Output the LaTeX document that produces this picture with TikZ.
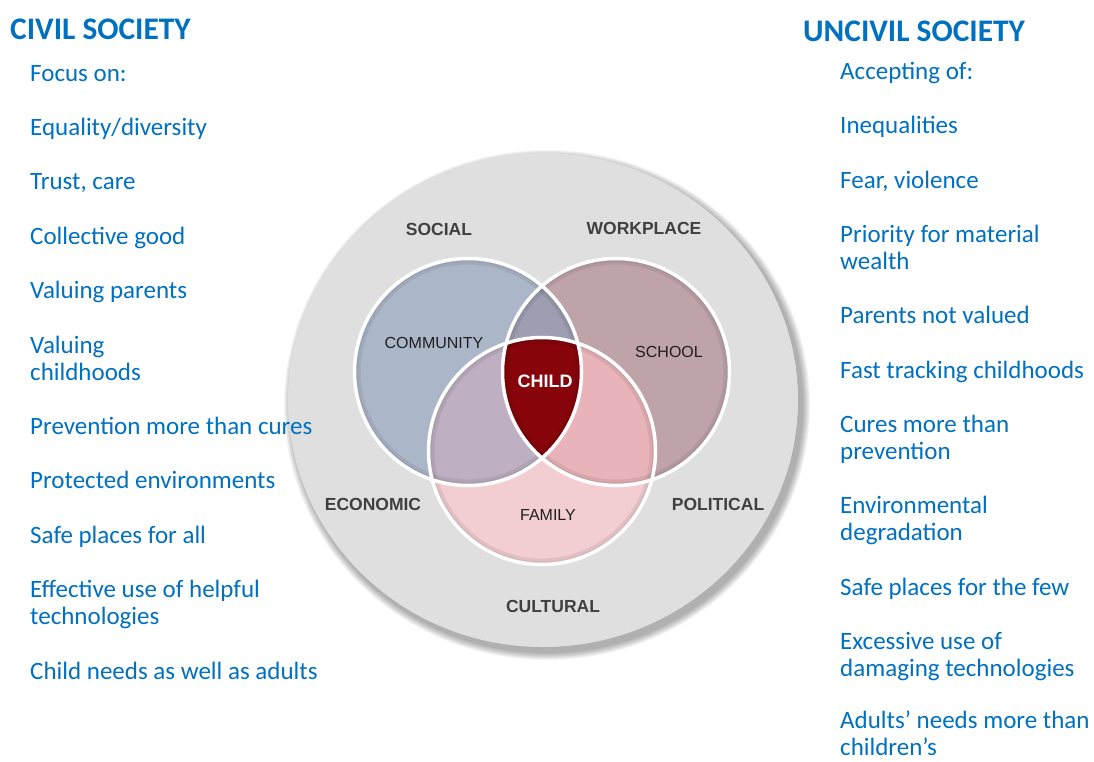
\documentclass[tikz,border=0pt]{standalone}
\usepackage{fontspec}
\setmainfont{Carlito}
\newfontfamily\arialf{Liberation Sans}
\definecolor{txtblue}{RGB}{0,112,192}
\definecolor{bigc}{RGB}{223,223,223}
\definecolor{lblgray}{RGB}{64,64,64}
\definecolor{commc}{RGB}{172,182,201}
\definecolor{schoolc}{RGB}{190,164,168}
\definecolor{famc}{RGB}{242,206,210}
\definecolor{csc}{RGB}{158,158,178}
\definecolor{cfc}{RGB}{190,176,194}
\definecolor{sfc}{RGB}{232,180,186}
\definecolor{childc}{RGB}{135,5,10}
\begin{document}
\begin{tikzpicture}[x=1pt,y=-1pt,
  item/.style={anchor=base west, inner sep=0pt, align=left, text=txtblue, font=\fontsize{25}{27}\selectfont},
  ttl/.style={anchor=base west, inner sep=0pt, text=txtblue, font=\fontsize{31.4}{34}\selectfont\bfseries},
  ringlbl/.style={inner sep=0pt, font=\arialf\bfseries\fontsize{17.5}{19}\selectfont, text=lblgray},
  innerlbl/.style={inner sep=0pt, font=\arialf\fontsize{16}{18}\selectfont, text=black!88},
  childlbl/.style={inner sep=0pt, font=\arialf\bfseries\fontsize{18}{20}\selectfont, text=white},
  outline/.style={draw=white, line width=3.5pt}
]
\useasboundingbox (0,0) rectangle (1094,761);
\fill[white] (0,0) rectangle (1094,761);

% centres
\coordinate (big) at (543,400);
\coordinate (cC) at (468,372);
\coordinate (cS) at (616,372);
\coordinate (cF) at (542,451);
\def\r{113.5pt}

% shadow of the outer disc
\foreach \d in {8,7,...,1}
  \fill[black, opacity=0.045] (547,405) ellipse ({(255+\d)*1pt} and {(247+\d)*1pt});
\fill[bigc] (big) ellipse (255pt and 247pt);

% circle fills
\fill[commc] (cC) circle (\r);
\fill[schoolc] (cS) circle (\r);
\fill[famc] (cF) circle (\r);
\begin{scope}
  \clip (cC) circle (\r);
  \fill[csc] (cS) circle (\r);
  \fill[cfc] (cF) circle (\r);
\end{scope}
\begin{scope}
  \clip (cS) circle (\r);
  \fill[sfc] (cF) circle (\r);
\end{scope}
\begin{scope}
  \clip (cC) circle (\r);
  \clip (cS) circle (\r);
  \fill[childc] (cF) circle (\r);
\end{scope}
% inner soft shading
\foreach \c in {cC,cS,cF}{
  \begin{scope}
    \clip (\c) circle (\r);
    \draw[black, opacity=0.07, line width=12pt] (\c) circle (\r);
    \draw[black, opacity=0.05, line width=6pt] (\c) circle (\r);
  \end{scope}
}
% white outlines
\draw[outline] (cC) circle (\r);
\draw[outline] (cS) circle (\r);
\draw[outline] (cF) circle (\r);

% venn labels
\node[ringlbl] (social) at (439,229) {SOCIAL};
\node[ringlbl] (workplace) at (644,228) {WORKPLACE};
\node[ringlbl] (economic) at (373,504) {ECONOMIC};
\node[ringlbl] (political) at (718,504) {POLITICAL};
\node[ringlbl] (cultural) at (553,606) {CULTURAL};
\node[innerlbl] (community) at (434,343) {COMMUNITY};
\node[innerlbl] (school) at (669,352) {SCHOOL};
\node[innerlbl] (family) at (548,515) {FAMILY};
\node[childlbl] (child) at (545,381) {CHILD};

% left column (base = last line's baseline)
\node[ttl] (civil) at (10,39) {CIVIL SOCIETY};
\node[item] (l1) at (30,81) {Focus on:};
\node[item] (l2) at (30,135.4) {Equality/diversity};
\node[item] (l3) at (30,189.8) {Trust, care};
\node[item] (l4) at (30,244.2) {Collective good};
\node[item] (l5) at (30,298.6) {Valuing parents};
\node[item] (l6) at (30,380) {Valuing\\childhoods};
\node[item] (l7) at (30,434.4) {Prevention more than cures};
\node[item] (l8) at (30,488.8) {Protected environments};
\node[item] (l9) at (30,543.2) {Safe places for all};
\node[item] (l10) at (30,624.6) {Effective use of helpful\\technologies};
\node[item] (l11) at (30,679) {Child needs as well as adults};

% right column
\node[ttl] (uncivil) at (803,41) {UNCIVIL SOCIETY};
\node[item] (r1) at (840,79) {Accepting of:};
\node[item] (r2) at (840,133.5) {Inequalities};
\node[item] (r3) at (840,188) {Fear, violence};
\node[item] (r4) at (840,269) {Priority for material\\wealth};
\node[item] (r5) at (840,323.5) {Parents not valued};
\node[item] (r6) at (840,378) {Fast tracking childhoods};
\node[item] (r7) at (840,459) {Cures more than\\prevention};
\node[item] (r8) at (840,540.5) {Environmental\\degradation};
\node[item] (r9) at (840,595) {Safe places for the few};
\node[item] (r10) at (840,676.5) {Excessive use of\\damaging technologies};
\node[item] (r11) at (840,755) {Adults’ needs more than\\children’s};
\end{tikzpicture}
\end{document}
